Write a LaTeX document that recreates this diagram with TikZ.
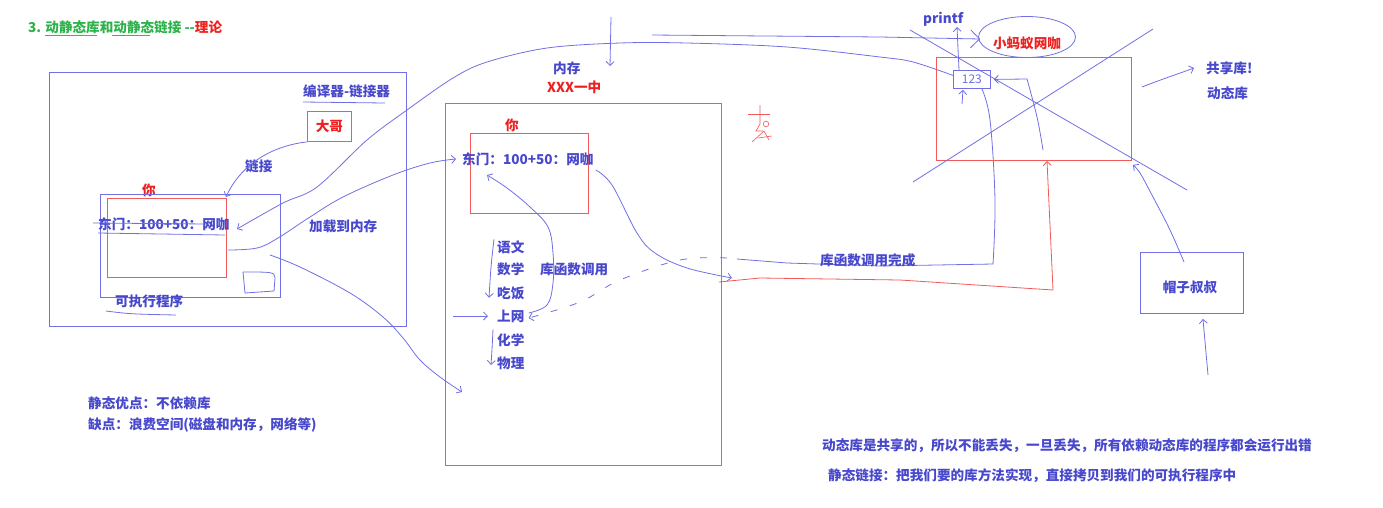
\documentclass[tikz,border=0pt]{standalone}
\usepackage{fontspec}
\newfontfamily\cjk{Noto Sans CJK SC}
\usetikzlibrary{arrows.meta,shapes.geometric,calc}
\definecolor{tblue}{RGB}{72,72,205}
\definecolor{lblue}{RGB}{112,112,228}
\definecolor{lred}{RGB}{242,90,90}
\definecolor{tred}{RGB}{238,32,32}
\definecolor{tgreen}{RGB}{45,178,75}
\begin{document}
\begin{tikzpicture}[x=1pt,y=-1pt,
  txt/.style={font=\cjk\bfseries\fontsize{13.6}{16}\selectfont, text=tblue, inner sep=0pt, anchor=west},
  rtxt/.style={txt, text=tred},
  bbox/.style={draw=lblue, line width=0.9pt, anchor=north west, inner sep=0pt},
  rbox/.style={draw=lred, line width=0.9pt, anchor=north west, inner sep=0pt},
  bl/.style={draw=lblue, line width=0.8pt},
  rl/.style={draw=lred, line width=0.8pt},
  tip/.style={-{Straight Barb[length=4pt,width=8pt]}},
  bigtip/.style={-{Straight Barb[length=9pt,width=18pt]}},
]
\useasboundingbox[fill=white] (0,0) rectangle (1383,507);

% ---------- title ----------
\node[txt, text=tgreen] (title) at (28,27) {3. 动静态库和动静态链接 -{}-\textcolor{tred}{理论}};
\draw[rl, line width=0.5pt] (45,35) -- (97,35);
\draw[rl, line width=0.5pt] (112,35) -- (150,35);

% ---------- compiler / linker ----------
\node[bbox, minimum width=357pt, minimum height=254pt] (compiler) at (49,72) {};
\node[txt] (complbl) at (303,91) {编译器-链接器};
\draw[bl] (303,102) -- (385,103);
\node[rbox, minimum width=44pt, minimum height=30pt, font=\cjk\bfseries\fontsize{13.6}{16}\selectfont, text=tred] (dage) at (307,111) {大哥};
\node[txt] (linklbl) at (245,166) {链接};
\node[rtxt] (ni1) at (142,190) {你};
\node[bbox, minimum width=180pt, minimum height=103pt] (exe) at (100,194) {};
\node[rbox, minimum width=119pt, minimum height=79pt] (youbox1) at (107,198) {};
\node[txt] (dm1) at (98,224) {东门：100+50：网咖};
\draw[bl] (93,223) -- (207,224);
\draw[bl] (98,233) -- (225,235);
\node[txt] (exelbl) at (115,301) {可执行程序};
\draw[bl] (106,311) .. controls (130,314) .. (176,315);
\node[txt] (loadlbl) at (309,226) {加载到内存};
% small scribble
\draw[bl] (243,272) -- (245,293) -- (274,291) -- (275,278) .. controls (274,272) .. (243,272);

% link arrow from dage
\coordinate (linkend) at (226,197);
\draw[bl,tip] (dage.south west) .. controls (270,146) and (240,166) .. (linkend);

% ---------- memory ----------
\node[rbox, minimum width=276pt, minimum height=362pt] (mem) at (445,103) {};
\node[txt] (memlbl) at (553,68) {内存};
\node[rtxt] (school) at (547,87) {XXX一中};
\coordinate (vtop) at (611,17);
\coordinate (vbot) at (610,66);
\draw[bl,tip] (vtop) -- (vbot);
\node[rtxt] (ni2) at (505,125) {你};
\node[rbox, minimum width=118pt, minimum height=80pt] (youbox2) at (470,133) {};
\node[txt] (dm2) at (462,159) {东门：100+50：网咖};

\node[txt] (yw) at (497,247) {语文};
\node[txt] (sx) at (497,269) {数学};
\node[txt] (cf) at (497,293) {吃饭};
\node[txt] (sw) at (497,316) {上网};
\node[txt] (hx) at (497,340) {化学};
\node[txt] (wl) at (497,363) {物理};
\node[txt] (callib) at (540,269) {库函数调用};

\draw[bl,tip] ($(yw.north west)+(-3,-1)$) .. controls (491,265) .. ($(cf.south west)+(-8,-2)$);
\draw[bl,tip] ($(hx.north west)+(-4,-4)$) .. controls (492,350) .. ($(wl.west)+(-6,2)$);
\draw[bl,tip] ($(sw.west)+(-44,0)$) -- ($(sw.west)+(-9,0)$);
\draw[bl,tip] plot[smooth, tension=0.6] coordinates {($(sw.east)+(4,-3)$) (547,305) (553,283) (553,253) (548,227) (530,207) (507,188) (487,175)};

% load to memory
\draw[bl,tip] plot[smooth, tension=0.6] coordinates {(228,250) (257,248) (278,238) (310,217) (343,197) (393,175) (430,163) ($(dm2.west)+(-6,0)$)};
% lower curve
\draw[bl,tip] plot[smooth, tension=0.6] coordinates {(270,255) (300,267) (350,293) (383,317) (403,338) (420,360) (440,377) (462,392)};

% static copy arc from 123 to exe
\node[draw=lblue, line width=0.8pt, anchor=north west, minimum width=37pt, minimum height=18pt, inner sep=0pt, font=\cjk\fontsize{12}{12}\selectfont, text=lblue] (f123) at (953,70) {123};
\draw[bl,tip] plot[smooth, tension=0.55] coordinates {($(f123.west)+(0,-4)$) (913,62) (880,57) (787,47) (687,43) (620,43) (547,48) (487,62) (453,78) (407,110) (367,140) (317,187) (283,203) (237,229)};

% dm2 -> right edge of memory
\draw[bl,tip] plot[smooth, tension=0.6] coordinates {($(dm2.east)+(2,11)$) (612,185) (637,233) (655,253) (687,268) (732,278)};

% red return path
\coordinate (redend) at (1047,161);
\draw[rl,tip] (719,282) -- (760,278) -- (900,280) -- (1053,290) -- (redend);

% blue return path
\draw[bl] plot[smooth, tension=0.6] coordinates {($(f123.south)+(10,0)$) (990,120) (995,200) (993,264)} -- (880,266) -- (787,263) -- (737,259);
\draw[bl,tip,dash pattern=on 7pt off 13pt] plot[smooth, tension=0.6] coordinates {(727,258) (680,260) (620,280) (580,302) ($(sw.east)+(4,2)$)};
\node[txt] (done) at (820,260) {库函数调用完成};

% stick figure
\draw[rl, line width=0.6pt] (748,114) -- (770,114);
\draw[rl, line width=0.6pt] (760,105) -- (760,124) -- (756,131) -- (763,131);
\draw[rl, line width=0.6pt] (766,124) circle (2.8);
\draw[rl, line width=0.6pt] (752,142) -- (764,131) -- (769,140);
\draw[rl, line width=0.6pt] (758,138) -- (772,136);

% ---------- dynamic library ----------
\node[rbox, minimum width=195pt, minimum height=103pt] (dyn) at (936,57) {};
\node[txt] (printf) at (923,19) {printf};
\node[ellipse, draw=lblue, line width=0.8pt, minimum width=97pt, minimum height=41pt, inner sep=0pt] (cloud) at (1027,37) {};
\node[rtxt, anchor=center] (wangka) at (1027,43) {小蚂蚁网咖};
\coordinate (topstart) at (652,35);
\draw[bl,bigtip] (topstart) -- (880,37) -- ($(cloud.west)+(2,2)$);
\coordinate (pfend) at (957,27);
\draw[bl,tip] ($(f123.north west)+(6,0)$) -- (pfend);
\draw[bl,tip] (962,104) -- ($(f123.south west)+(10,1)$);
\draw[bl,tip] plot[smooth, tension=0.6] coordinates {(1043,150) (1037,117) (1027,79)} -- ($(f123.east)+(3,0)$);

\draw[bl] (913,182) -- (1153,29);
\draw[bl] (910,30) -- (1187,190);

\node[txt] (share) at (1206,68) {共享库!};
\node[txt] (dynlbl) at (1207,93) {动态库};
\draw[bl,tip] (1142,87) .. controls (1165,78) and (1178,74) .. ($(share.west)+(-12,0)$);

\node[bbox, minimum width=103pt, minimum height=61pt] (uncle) at (1140,252) {};
\node[txt, anchor=center] (unclelbl) at (1190,287) {帽子叔叔};
\draw[bl,tip] plot[smooth, tension=0.6] coordinates {(1184,262) (1170,230) (1153,197) (1140,173) ($(dyn.south east)+(1,4)$)};
\draw[bl,tip] (1208,375) -- ($(uncle.south)+(11,5)$);

% ---------- notes ----------
\node[txt] (pro) at (88,403) {静态优点：不依赖库};
\node[txt] (con) at (88,425) {缺点：浪费空间(磁盘和内存，网络等)};
\node[txt] (note1) at (822,446) {动态库是共享的，所以不能丢失，一旦丢失，所有依赖动态库的程序都会运行出错};
\node[txt] (note2) at (828,476) {静态链接：把我们要的库方法实现，直接拷贝到我们的可执行程序中};
\end{tikzpicture}
\end{document}
